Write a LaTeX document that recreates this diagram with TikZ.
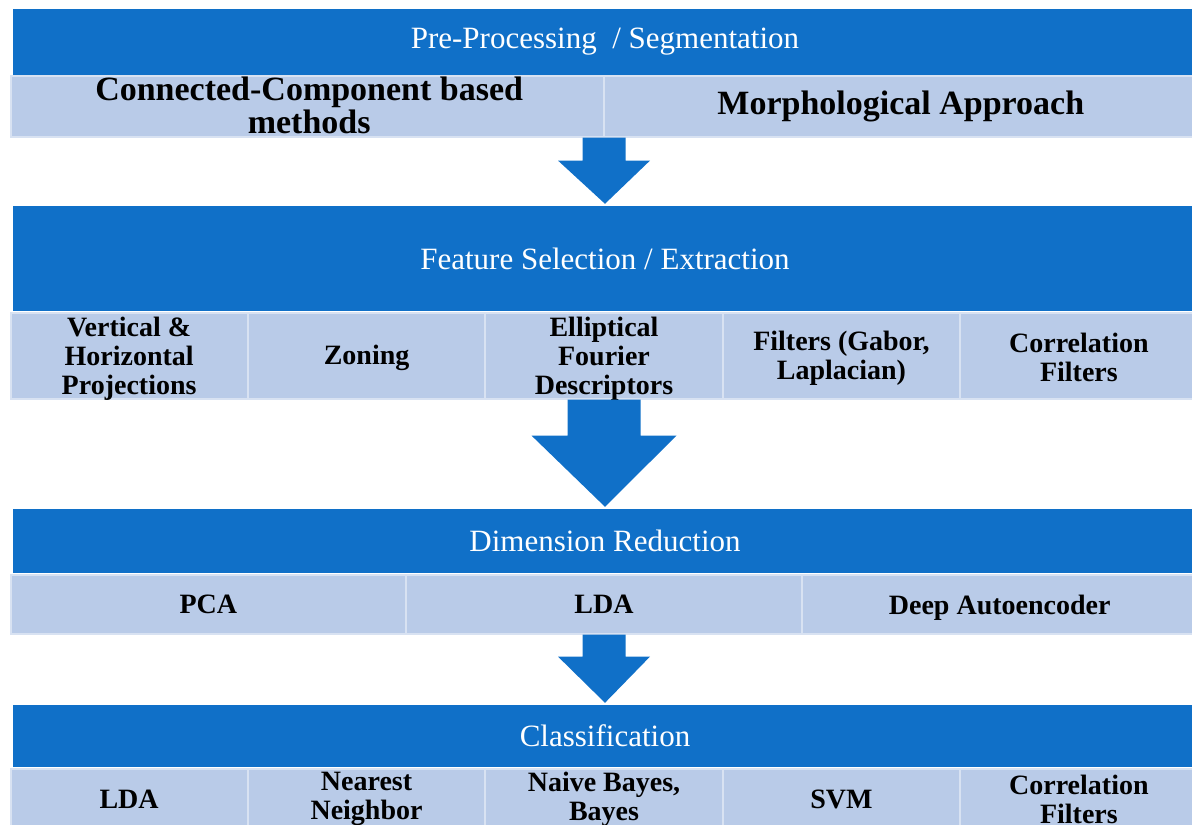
\documentclass[tikz,border=0pt]{standalone}
\usepackage{fontspec}
\setmainfont{Liberation Serif}
\usetikzlibrary{calc}

\definecolor{bandblue}{HTML}{1070C8}
\definecolor{cellblue}{HTML}{B9CBE8}
\definecolor{celledge}{HTML}{D8E2F2}

\tikzset{
  band/.style={fill=bandblue, inner sep=0pt, text=white,
    font=\fontsize{31}{33}\selectfont},
  itemrow/.style={fill=cellblue, draw=celledge, line width=1.2pt, inner sep=0pt},
  divider/.style={draw=celledge, line width=2pt},
  bigitem/.style={inner sep=0pt, align=center, text=black,
    font=\bfseries\fontsize{34}{33}\selectfont},
  item/.style={inner sep=0pt, align=center, text=black,
    font=\bfseries\fontsize{28}{29}\selectfont},
  flow/.style={fill=bandblue}
}

% block arrow from the bottom of one row to the top of the next band
% #1 upper node, #2 lower node, #3 shaft half width, #4 head half width, #5 shaft length
\newcommand\stagearrow[5]{%
  \fill[flow] ($(#1.south)+(-#3,0)$) -- ($(#1.south)+(#3,0)$)
    -- ($(#1.south)+(#3,#5)$) -- ($(#1.south)+(#4,#5)$)
    -- ($(#2.north)+(0,-2)$)
    -- ($(#1.south)+(-#4,#5)$) -- ($(#1.south)+(-#3,#5)$) -- cycle;}

\begin{document}
\begin{tikzpicture}[x=1pt,y=-1pt]
\useasboundingbox (0,0) rectangle (1192,825);
\clip (0,0) rectangle (1192,825);

% ---------- stage 1 ----------
\node[band, minimum width=1184pt, minimum height=66pt] (b1) at (605,42) {Pre-Processing\ \ / Segmentation};
\node[itemrow, minimum width=1186pt, minimum height=61pt] (r1) at (604,106.5) {};
\draw[divider] ($(r1.north west)!0.5!(r1.north east)$) -- ($(r1.south west)!0.5!(r1.south east)$);
\node[bigitem] (t11) at ($(r1.west)!0.25!(r1.east)+(2,-1)$) {Connected-Component based\\methods};
\node[bigitem] (t12) at ($(r1.west)!0.75!(r1.east)$) {Morphological Approach};

% ---------- stage 2 ----------
\node[band, minimum width=1184pt, minimum height=105pt] (b2) at (605,258.5) {Feature Selection / Extraction};
\node[itemrow, minimum width=1186pt, minimum height=86pt] (r2) at (604,356) {};
\foreach \f in {0.2,0.4,0.6,0.8}
  \draw[divider] ($(r2.north west)!\f!(r2.north east)$) -- ($(r2.south west)!\f!(r2.south east)$);
\node[item] (t21) at ($(r2.west)!0.1!(r2.east)+(0,2.5)$) {Vertical \&\\Horizontal\\Projections};
\node[item] (t22) at ($(r2.west)!0.3!(r2.east)+(0,2)$) {Zoning};
\node[item] (t23) at ($(r2.west)!0.5!(r2.east)+(0,2.5)$) {Elliptical\\Fourier\\Descriptors};
\node[item] (t24) at ($(r2.west)!0.7!(r2.east)+(0,2)$) {Filters (Gabor,\\Laplacian)};
\node[item] (t25) at ($(r2.west)!0.9!(r2.east)+(0,1)$) {Correlation\\Filters};

% ---------- stage 3 ----------
\node[band, minimum width=1184pt, minimum height=64pt] (b3) at (605,541) {Dimension Reduction};
\node[itemrow, minimum width=1186pt, minimum height=59pt] (r3) at (604,604.5) {};
\foreach \f in {0.3333,0.6667}
  \draw[divider] ($(r3.north west)!\f!(r3.north east)$) -- ($(r3.south west)!\f!(r3.south east)$);
\node[item] (t31) at ($(r3.west)!0.1667!(r3.east)$) {PCA};
\node[item] (t32) at ($(r3.west)!0.5!(r3.east)$) {LDA};
\node[item] (t33) at ($(r3.west)!0.8333!(r3.east)+(0,3)$) {Deep Autoencoder};

% ---------- stage 4 ----------
\node[band, minimum width=1184pt, minimum height=62pt] (b4) at (605,736) {Classification};
\node[itemrow, minimum width=1186pt, minimum height=60pt] (r4) at (604,799) {};
\foreach \f in {0.2,0.4,0.6,0.8}
  \draw[divider] ($(r4.north west)!\f!(r4.north east)$) -- ($(r4.south west)!\f!(r4.south east)$);
\node[item] (t41) at ($(r4.west)!0.1!(r4.east)$) {LDA};
\node[item] (t42) at ($(r4.west)!0.3!(r4.east)$) {Nearest\\Neighbor};
\node[item] (t43) at ($(r4.west)!0.5!(r4.east)$) {Naive Bayes,\\Bayes};
\node[item] (t44) at ($(r4.west)!0.7!(r4.east)$) {SVM};
\node[item] (t45) at ($(r4.west)!0.9!(r4.east)$) {Correlation\\Filters};

% ---------- arrows between stages ----------
\stagearrow{r1}{b2}{21.5}{46}{23}
\stagearrow{r2}{b3}{36.5}{72.5}{36}
\stagearrow{r3}{b4}{21.5}{46}{22}
\end{tikzpicture}
\end{document}
